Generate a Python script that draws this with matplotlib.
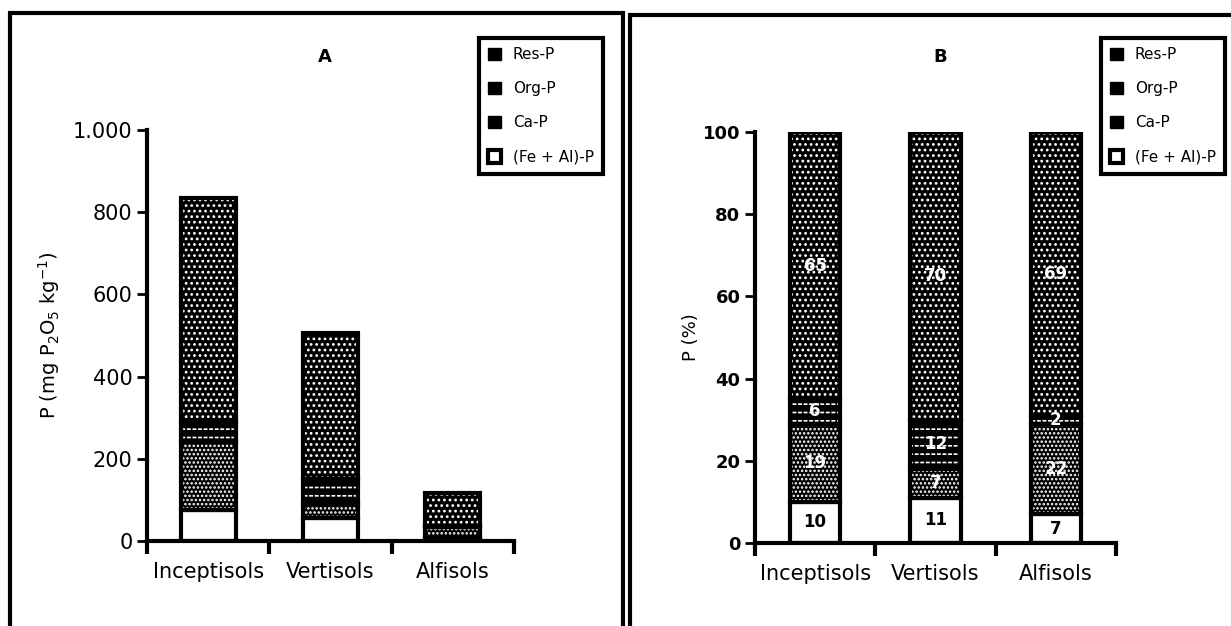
import numpy as np
import matplotlib.pyplot as plt
from matplotlib.patches import Patch, Rectangle

plt.rcParams['font.family'] = ['DejaVu Sans']
plt.rcParams['hatch.linewidth'] = 1.2

soils = ["Inceptisols", "Vertisols", "Alfisols"]
fractions = ["(Fe + Al)-P", "Ca-P", "Org-P", "Res-P"]

# panel A, mg P2O5 per kg
fe_al_mg = [75, 55, 8]
ca_mg = [165, 35, 26]
org_mg = [50, 60, 2]
res_mg = [545, 355, 80]

# panel B, percent of total
fe_al_pct = [10, 11, 7]
ca_pct = [19, 7, 22]
org_pct = [6, 12, 2]
res_pct = [65, 70, 69]

yticks_a = [0, 200, 400, 600, 800, 1000]
ytick_labels_a = ["0", "200", "400", "600", "800", "1.000"]
yticks_b = [0, 20, 40, 60, 80, 100]

W, H = 1231, 626
fig = plt.figure(figsize=(W / 100, H / 100), dpi=100)

# hatch look of each fraction: (face, hatch colour, hatch)
styles = {
    "(Fe + Al)-P": ("white", "white", None),
    "Ca-P": ("black", "white", "...."),
    "Org-P": ("black", "white", "--"),
    "Res-P": ("black", "white", "..."),
}


def stacked(ax, series, width):
    x = np.arange(len(soils))
    bottom = np.zeros(len(soils))
    for name, vals in zip(fractions, series):
        face, hc, hatch = styles[name]
        ax.bar(x, vals, width, bottom=bottom, color=face, edgecolor=hc,
               hatch=hatch, linewidth=0)
        if name == "Org-P":
            # break the white lines into dashes
            ax.bar(x, vals, width, bottom=bottom, facecolor="none",
                   edgecolor="black", hatch="|||", linewidth=0)
        ax.bar(x, vals, width, bottom=bottom, facecolor="none",
               edgecolor="black", linewidth=3)
        bottom = bottom + np.array(vals)
    return x


def style_axes(ax, top):
    ax.set_xlim(-0.5, 2.5)
    ax.set_ylim(0, top)
    for s in ["top", "right"]:
        ax.spines[s].set_visible(False)
    for s in ["left", "bottom"]:
        ax.spines[s].set_linewidth(3)
    ax.set_xticks([-0.5, 0.5, 1.5, 2.5])
    ax.set_xticklabels([])
    ax.tick_params(axis="x", length=9, width=3, direction="out")
    ax.tick_params(axis="y", length=7, width=2, direction="out")
    for i, s in enumerate(soils):
        ax.text(i, -0.075, s, transform=ax.get_xaxis_transform(),
                ha="center", va="center", fontsize=15)


# ---- panel A
axA = fig.add_axes([147 / W, 1 - 541 / H, 367 / W, 411 / H])
stacked(axA, [fe_al_mg, ca_mg, org_mg, res_mg], 0.45)
style_axes(axA, 1000)
axA.set_yticks(yticks_a)
axA.set_yticklabels(ytick_labels_a, fontsize=15)
axA.set_ylabel(r"P (mg P$_2$O$_5$ kg$^{-1}$)", fontsize=14, labelpad=8)
fig.text(325 / W, 1 - 57 / H, "A", ha="center", va="center",
         fontsize=13, fontweight="bold")

# ---- panel B
axB = fig.add_axes([755 / W, 1 - 543 / H, 361 / W, 411 / H])
xb = stacked(axB, [fe_al_pct, ca_pct, org_pct, res_pct], 0.42)
style_axes(axB, 100)
axB.set_yticks(yticks_b)
axB.set_yticklabels([str(v) for v in yticks_b], fontsize=13, fontweight="bold")
axB.set_ylabel("P (%)", fontsize=13, labelpad=2)
fig.text(940 / W, 1 - 57 / H, "B", ha="center", va="center",
         fontsize=13, fontweight="bold")

bottom = np.zeros(3)
for k, vals in enumerate([fe_al_pct, ca_pct, org_pct, res_pct]):
    for i, v in enumerate(vals):
        col = "black" if k == 0 else "white"
        axB.text(xb[i], bottom[i] + v / 2, str(v), ha="center", va="center",
                 fontsize=12, fontweight="bold", color=col)
    bottom = bottom + np.array(vals)

# ---- legends
handles = [
    Patch(facecolor="black", edgecolor="black", label="Res-P"),
    Patch(facecolor="black", edgecolor="black", label="Org-P"),
    Patch(facecolor="black", edgecolor="black", label="Ca-P"),
    Patch(facecolor="white", edgecolor="black", linewidth=3, label="(Fe + Al)-P"),
]
for right in [603, 1225]:
    leg = fig.legend(handles=handles, loc="upper right",
                     bbox_to_anchor=(right / W, 1 - 38 / H),
                     fontsize=11, handlelength=0.8, handleheight=0.9,
                     handletextpad=0.8, labelspacing=1.25, borderpad=0.6,
                     borderaxespad=0, fancybox=False, framealpha=1,
                     edgecolor="black")
    leg.get_frame().set_linewidth(3)

# ---- panel frames
fig.patches.append(Rectangle((10 / W, -0.1), 613 / W, 1.1 - 13 / H,
                             transform=fig.transFigure, fill=False,
                             edgecolor="black", linewidth=3))
fig.patches.append(Rectangle((630 / W, -0.1), 0.6, 1.1 - 15 / H,
                             transform=fig.transFigure, fill=False,
                             edgecolor="black", linewidth=3))

fig.savefig("out.png", dpi=100)
